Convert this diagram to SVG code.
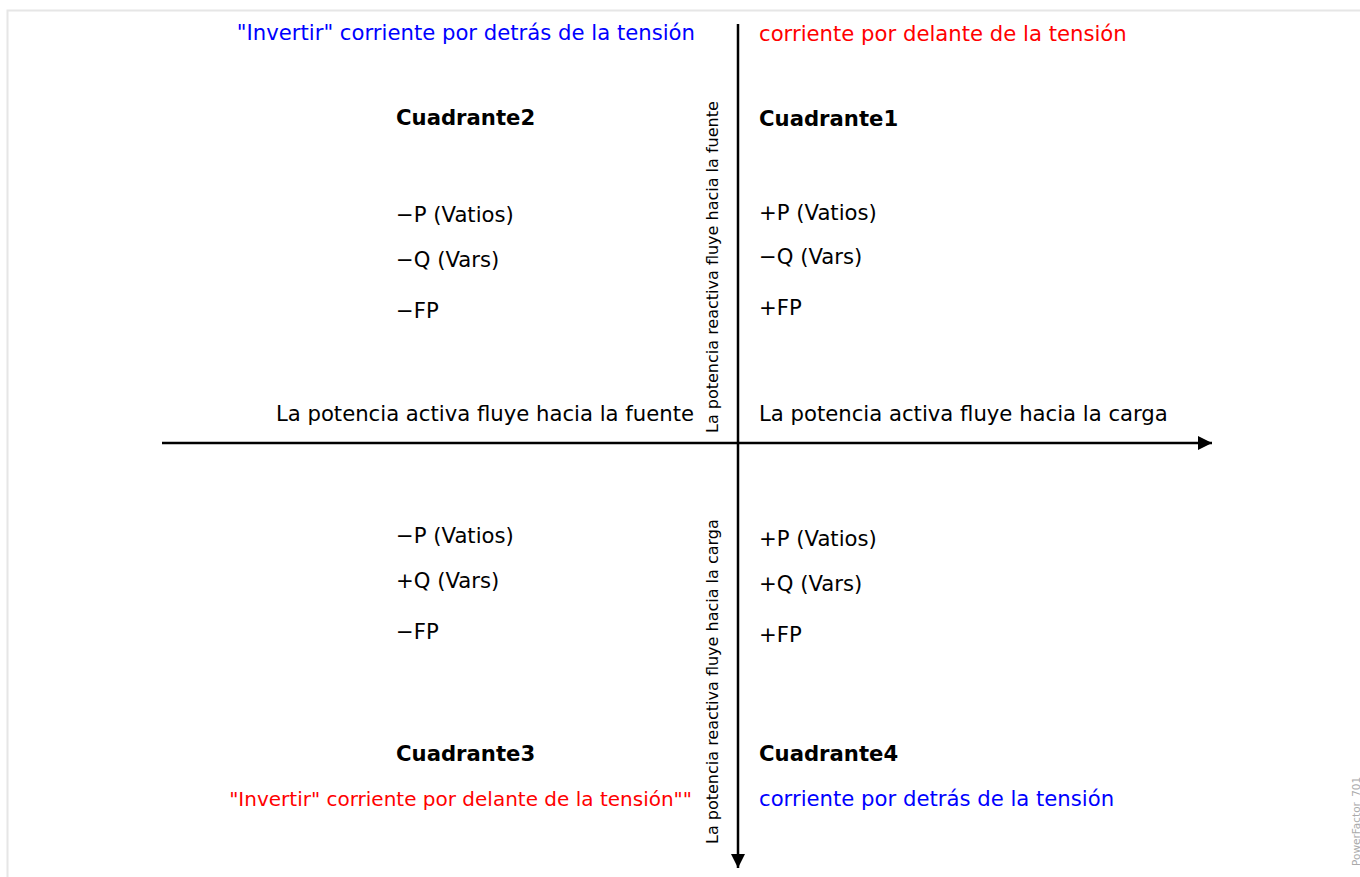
<svg xmlns="http://www.w3.org/2000/svg" width="1360" height="877" viewBox="0 0 1360 877">
<defs>
<marker id="arr" viewBox="0 0 10 10" refX="10" refY="5" markerWidth="14" markerHeight="14" markerUnits="userSpaceOnUse" orient="auto"><path d="M0,0 L10,5 L0,10 z" fill="#000"/></marker>
</defs>
<style>
text{font-family:"DejaVu Sans",sans-serif;font-size:21.2px;fill:#000}
.b{font-weight:bold}
.blue{fill:#0000ff}
.red{fill:#ff0000}
.r{text-anchor:end}
.s{font-size:20px}
.v{font-size:16px}
.tiny{font-size:10.5px;fill:#aaa}
.ax{stroke:#000;stroke-width:2.5;fill:none}
</style>
<rect x="7.5" y="10.5" width="1370" height="880" fill="none" stroke="#e6e6e6" stroke-width="2"/>
<g id="connectors">
<line class="ax" x1="162" y1="443" x2="1212" y2="443" marker-end="url(#arr)"/>
<line class="ax" x1="738" y1="24" x2="738" y2="868" marker-end="url(#arr)"/>
</g>
<g id="top-labels">
<text class="blue r" x="695" y="40">"Invertir" corriente por detrás de la tensión</text>
<text class="red" x="759" y="41">corriente por delante de la tensión</text>
</g>
<g id="q2">
<text class="b" x="396" y="125">Cuadrante2</text>
<text x="396" y="222">−P (Vatios)</text>
<text x="396" y="267">−Q (Vars)</text>
<text x="396" y="318">−FP</text>
</g>
<g id="q1">
<text class="b" x="759" y="126">Cuadrante1</text>
<text x="759" y="220">+P (Vatios)</text>
<text x="759" y="264">−Q (Vars)</text>
<text x="759" y="315">+FP</text>
</g>
<g id="axis-labels">
<text class="r" x="694" y="421">La potencia activa fluye hacia la fuente</text>
<text x="759" y="421">La potencia activa fluye hacia la carga</text>
<text class="v" transform="translate(718,433) rotate(-90)">La potencia reactiva fluye hacia la fuente</text>
<text class="v" transform="translate(718,844) rotate(-90)">La potencia reactiva fluye hacia la carga</text>
</g>
<g id="q3">
<text x="396" y="543">−P (Vatios)</text>
<text x="396" y="588">+Q (Vars)</text>
<text x="396" y="639">−FP</text>
<text class="b" x="396" y="761">Cuadrante3</text>
</g>
<g id="q4">
<text x="759" y="546">+P (Vatios)</text>
<text x="759" y="591">+Q (Vars)</text>
<text x="759" y="642">+FP</text>
<text class="b" x="759" y="761">Cuadrante4</text>
</g>
<g id="bottom-labels">
<text class="red r s" x="692" y="806">"Invertir" corriente por delante de la tensión""</text>
<text class="blue" x="759" y="806">corriente por detrás de la tensión</text>
</g>
<text class="tiny" transform="translate(1360,866) rotate(-90)">PowerFactor_701</text>
</svg>
